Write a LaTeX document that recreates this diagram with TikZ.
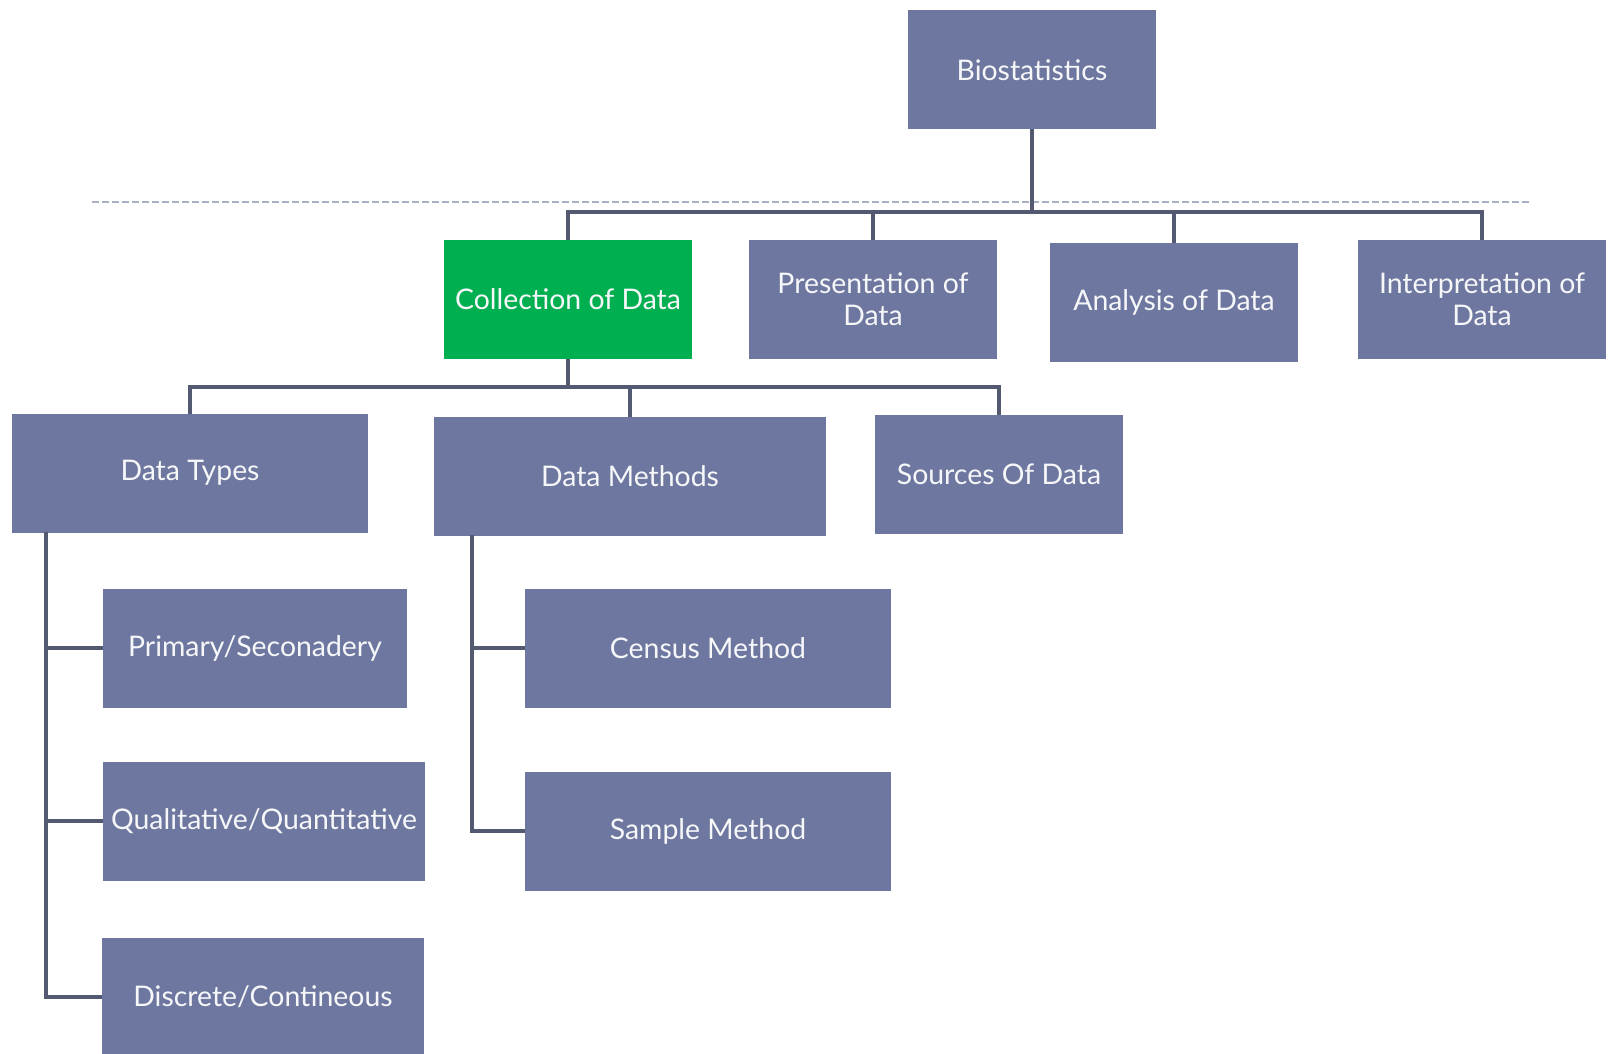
\documentclass[tikz,border=0pt]{standalone}
\usepackage{fontspec}
\setmainfont{Lato}
\usetikzlibrary{positioning}
\definecolor{boxblue}{HTML}{6E779F}
\definecolor{boxgreen}{HTML}{00AF50}
\definecolor{linkgrey}{HTML}{525970}
\definecolor{dashgrey}{HTML}{A9AFC4}

\begin{document}
\begin{tikzpicture}[
    x=0.5pt, y=-0.5pt,
    box/.style={rectangle, fill=boxblue, text=white!94!boxblue, inner sep=2pt, outer sep=0pt,
        minimum height=59.5pt, align=center, font=\fontsize{14.2}{16}\selectfont},
    link/.style={draw=linkgrey, line width=1.8pt}
    ]
        \useasboundingbox (0,0) rectangle (1608,1054);

        %Nodes
        \node[box, minimum width=124pt] (bio)    at (1032,70)    {Biostatistics};

        \node[box, minimum width=124pt, fill=boxgreen] (coll) at (568,299.5) {Collection of Data};
        \node[box, minimum width=124pt] (pres)   at (873,299.5)  {Presentation of\\Data};
        \node[box, minimum width=124pt] (anal)   at (1174,302.5) {Analysis of Data};
        \node[box, minimum width=124pt] (interp) at (1482,299.5) {Interpretation of\\Data};

        \node[box, minimum width=178pt] (types)   at (190,473)  {Data Types};
        \node[box, minimum width=196pt] (methods) at (630,476)  {Data Methods};
        \node[box, minimum width=124pt] (sources) at (999,474)  {Sources Of Data};

        \node[box, minimum width=152pt] (prim)  at (255,648)  {Primary/Seconadery};
        \node[box, minimum width=161pt] (qual)  at (264,821)  {Qualitative/Quantitative};
        \node[box, minimum width=161pt] (disc)  at (263,997)  {Discrete/Contineous};

        \node[box, minimum width=183pt] (census) at (708,648) {Census Method};
        \node[box, minimum width=183pt] (sample) at (708,831) {Sample Method};

        %Dashed rule
        \coordinate (ruleL) at (92,202);
        \coordinate (ruleR) at (1530,202);
        \draw[dashgrey, line width=0.6pt, dash pattern=on 3.5pt off 1.5pt] (ruleL) -- (ruleR);

        %Lines
        \coordinate (busA) at (0,212);
        \coordinate (busB) at (0,387);
        \foreach \child in {coll, pres, anal, interp}
            \draw[link] (bio.south) -- (bio.south |- busA) -| (\child.north);
        \foreach \child in {types, methods, sources}
            \draw[link] (coll.south) -- (coll.south |- busB) -| (\child.north);

        \coordinate (typesSpine) at (46,532);
        \foreach \child in {prim, qual, disc}
            \draw[link] (typesSpine) |- (\child.west);
        \coordinate (methodsSpine) at (472,535);
        \foreach \child in {census, sample}
            \draw[link] (methodsSpine) |- (\child.west);
    \end{tikzpicture}
\end{document}
